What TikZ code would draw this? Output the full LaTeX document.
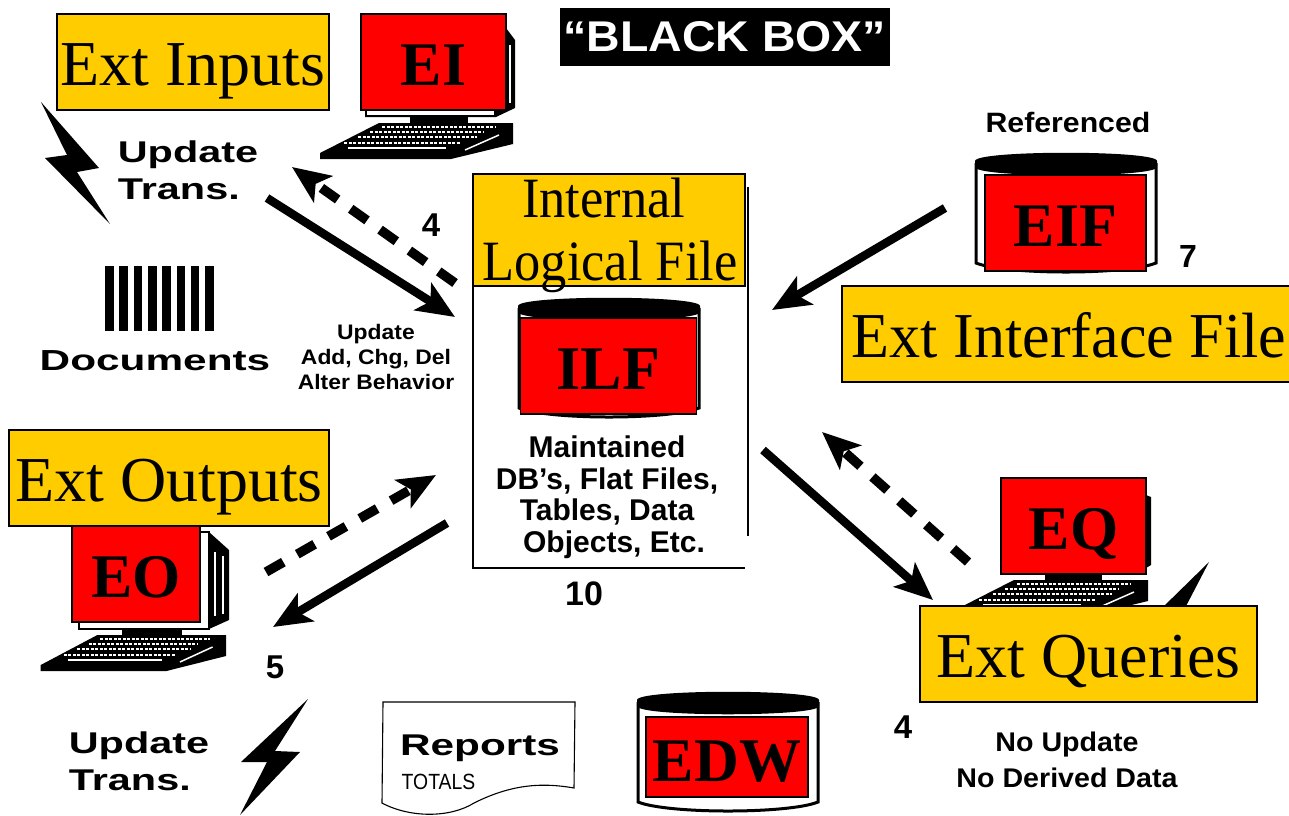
\documentclass[tikz,border=0pt]{standalone}
\usepackage{fontspec}
\setmainfont{Liberation Serif}
\setsansfont{Liberation Sans}
\usetikzlibrary{arrows.meta}
\definecolor{gatecol}{HTML}{FFCC00}
\definecolor{screencol}{HTML}{FF0000}
\newcommand{\fsz}[2]{\fontsize{#1}{#2}\selectfont}
\tikzset{
    gatebox/.style={draw, line width=1.6, fill=gatecol, inner sep=0, text height=71pt, text depth=25pt, font=\fsz{64}{64}},
    screen/.style={draw, line width=1.8, fill=screencol, inner sep=0, text height=71pt, text depth=25pt, font=\fsz{62}{62}\bfseries},
    scan/.style={inner sep=0, align=center, font=\sffamily\bfseries\fsz{#1}{#1}},
    scanleft/.style={inner sep=0, align=left, font=\sffamily\bfseries\fsz{#1}{#1}},
    flow/.style={line width=8.5, -{Stealth[length=38pt,width=32pt,inset=9pt]}},
    flowdash/.style={line width=9.5, dash pattern=on 20pt off 16pt, -{Stealth[length=38pt,width=32pt,inset=9pt]}},
    keyboard/.pic={
        \fill (0,0) -- (0,21) -- (-62,36) -- (-193,36) -- (-193,30) -- (-134,0) -- cycle;
        \draw[white, line width=1.5, dash pattern=on 3pt off 1.5pt] (-131,4) -- (-17,4);
        \draw[white, line width=1.5, dash pattern=on 3pt off 1.5pt] (-143,9) -- (-29,9);
        \draw[white, line width=1.5, dash pattern=on 3pt off 1.5pt] (-155,14) -- (-36,14);
        \draw[white, line width=1.5, dash pattern=on 3pt off 1.5pt] (-169,20) -- (-52,20);
        \draw[white, line width=1.5] (-165,25) -- (-67,25);
        \draw[white, line width=1.5] (-48,27) -- (-14,12);
    },
    dbdrum/.pic={
        \draw[line width=3, fill=white] (-90,10) -- (-90,110) .. controls (-60,122) and (60,122) .. (90,110) -- (90,10);
        \fill (-91,8) .. controls (-91,-3) and (91,-3) .. (91,8) -- (91,14) .. controls (91,25) and (-91,25) .. (-91,14) -- cycle;
    }
}
\begin{document}
\begin{tikzpicture}[x=1pt, y=-1pt]
    \clip (0,0) rectangle (1289,815);

    % free ends of the arrows
    \coordinate (eiin) at (267,198);
    \coordinate (eiinend) at (455,317);
    \coordinate (eiout) at (455,283);
    \coordinate (eioutend) at (292,167);
    \coordinate (eifout) at (945,208);
    \coordinate (eifend) at (772,310);
    \coordinate (eqin) at (763,450);
    \coordinate (eqinend) at (933,600);
    \coordinate (eqout) at (968,562);
    \coordinate (eqoutend) at (822,432);
    \coordinate (eoin) at (266,572);
    \coordinate (eoinend) at (436,475);
    \coordinate (eoout) at (447,523);
    \coordinate (eooutend) at (273,627);

    % lightning
    \fill (41,102) -- (99,168) -- (77,172) -- (110,224) -- (45,158) -- (67,155) -- cycle;
    \fill (308,699) -- (275,751) -- (300,752) -- (240,815) -- (267,762) -- (241,762) -- cycle;
    \fill (1209,562) -- (1162,608) -- (1185,608) -- cycle;

    % documents bars
    \foreach \i in {0,...,7}
        \fill (105+14.3*\i,266) rectangle (113.6+14.3*\i,331);

    % reports sheet
    \draw[line width=1.1] (383,702) -- (575,702) -- (574,788) .. controls (540,782) and (510,785) .. (474,803) .. controls (450,818) and (410,818) .. (382,803) -- cycle;

    % file frame
    \draw[line width=1.5] (473,286) -- (473,568) -- (745,568);
    \draw[line width=1.5] (748,187) -- (748,536);

    % computers
    \fill (506,28) -- (515,40) -- (515,108) -- (496,117) -- (365,117) -- (365,108) -- cycle;
    \fill[white] (367,111) rectangle (494,115);
    \fill[white] (509,45) rectangle (511,103);
    \fill (410,116) rectangle (468,124);
    \pic at (513,123) {keyboard};

    \draw[line width=1.5, fill=white] (195,532) -- (209,532) -- (209,629) -- (79,629) -- (79,615);
    \fill (209,532) -- (229,550) -- (229,620) -- (209,629) -- cycle;
    \fill[white] (214,552) rectangle (216,616);
    \fill[white] (222,556) rectangle (224,614);
    \fill (122,628) rectangle (182,640);
    \pic[xscale=0.96] at (226,635) {keyboard};

    \fill (1146,495) -- (1151,497) -- (1151,565) -- (1146,568) -- cycle;
    \fill (1045,574) rectangle (1102,581);
    \pic at (1148,580) {keyboard};

    % drums
    \pic at (609,298) {dbdrum};
    \pic at (1066,153) {dbdrum};
    \pic at (728,692) {dbdrum};

    % screens
    \draw(433.5,62) node [screen, minimum width=145](EI){EI};
    \draw(136,574) node [screen, minimum width=128](EO){EO};
    \draw(1073.5,526) node [screen, minimum width=145](EQ){EQ};
    \draw(1065.5,223) node [screen, minimum width=161](EIF){EIF};
    \draw(608.5,366) node [screen, minimum width=176](ILF){ILF};
    \draw(727,757) node [screen, minimum width=162, text height=64pt, text depth=16pt](EDW){EDW};

    % arrows
    \draw[flow] (eiin) -- (eiinend);
    \draw[flowdash] (eiout) -- (eioutend);
    \draw[flow] (eifout) -- (eifend);
    \draw[flow] (eqin) -- (eqinend);
    \draw[flowdash] (eqout) -- (eqoutend);
    \draw[flowdash] (eoin) -- (eoinend);
    \draw[flow] (eoout) -- (eooutend);

    % yellow labels
    \draw(193,62) node [gatebox, minimum width=272](extin){Ext Inputs};
    \draw(169,478) node [gatebox, minimum width=320](extout){Ext Outputs};
    \draw(1088.5,654) node [gatebox, minimum width=337](extq){Ext Queries};
    \draw(841,334) node [gatebox, anchor=west, inner xsep=10](extif){\makebox[470pt][l]{\scalebox{0.97}[1]{Ext Interface File}}};
    \draw(609,230) node [draw, line width=1.6, fill=gatecol, inner sep=0, minimum width=272, minimum height=112](intbox){};
    \draw(610,235) node [inner sep=0, align=center, xscale=0.92, font=\fsz{57}{63}](inttext){Internal\hspace*{14pt}\\Logical File};

    % black title
    \draw(725,37) node [fill=black, text=white, minimum width=330, minimum height=58, inner sep=0, font=\sffamily\bfseries\fsz{43}{43}](title){\scalebox{1.08}[1]{“BLACK BOX”}};

    % scanned texts
    \draw(188,170) node [scanleft=30, xscale=1.38](upd1){Update\\[7pt]Trans.};
    \draw(155,361) node [scan=29, xscale=1.46](docs){Documents};
    \draw(376,356.5) node [scan=21, xscale=1.09](upd2){Update\\[4pt]Add, Chg, Del\\[4pt]Alter Behavior};
    \draw(431,225) node [scan=33](n4a){4};
    \draw(607,497) node [scan=30](maint){Maintained\\[1.5pt]DB’s, Flat Files,\\[1.5pt]Tables, Data\\[1.5pt]\hspace*{14pt}Objects, Etc.};
    \draw(584,594) node [scan=34](n10){10};
    \draw(275,667) node [scan=33](n5){5};
    \draw(1188,256) node [scan=32](n7){7};
    \draw(903,727) node [scan=33](n4b){4};
    \draw(1068,122) node [scan=28, xscale=1.08](ref){Referenced};
    \draw(1067,760) node [scan=27, xscale=1.06](noupd){No Update\\[9pt]No Derived Data};
    \draw(139,761) node [scanleft=30, xscale=1.38](upd3){Update\\[7pt]Trans.};
    \draw(480,748) node [scan=30, xscale=1.41](rep){Reports};
    \draw(438.5,782) node [inner sep=0, font=\sffamily\fsz{22}{22}, xscale=0.88](tot){TOTALS};
\end{tikzpicture}
\end{document}
